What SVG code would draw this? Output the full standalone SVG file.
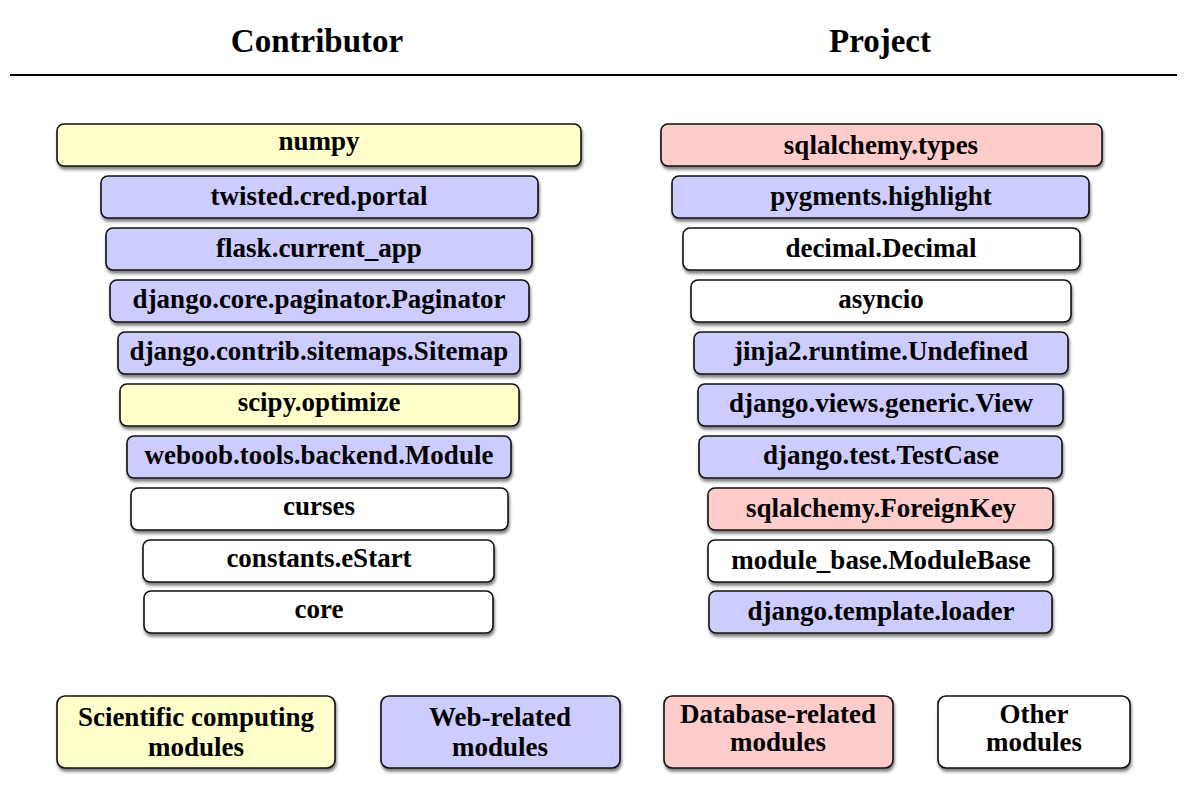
<svg xmlns="http://www.w3.org/2000/svg" width="1187" height="785" viewBox="0 0 1187 785">
<style>
text{font-family:"Liberation Serif","Times New Roman",serif;font-weight:bold;fill:#000;text-anchor:middle}
.t{font-size:27px}
.h{font-size:33px}
rect{stroke:#111;stroke-width:1.6;filter:url(#sh)}
.y{fill:#FFFFCC}.b{fill:#CCCCFF}.p{fill:#FFCCCC}.w{fill:#FFFFFF}
</style>
<defs>
<filter id="sh" x="-5%" y="-20%" width="110%" height="150%">
<feDropShadow dx="1" dy="3" stdDeviation="1.8" flood-color="#000" flood-opacity="0.5"/>
</filter>
</defs>
<rect width="1187" height="785" fill="#fff" style="stroke:none;filter:none"/>
<g id="header">
<text class="h" x="317" y="52">Contributor</text>
<text class="h" x="880" y="52">Project</text>
<line x1="10" y1="75" x2="1177" y2="75" stroke="#000" stroke-width="2"/>
</g>
<g id="connectors"></g>
<g id="c-numpy"><rect class="y" x="57" y="124" width="524" height="42" rx="7"/><text class="t" x="319" y="150">numpy</text></g>
<g id="c-twisted"><rect class="b" x="101" y="176" width="437" height="42" rx="7"/><text class="t" x="319" y="205">twisted.cred.portal</text></g>
<g id="c-flask"><rect class="b" x="106" y="228" width="426" height="42" rx="7"/><text class="t" x="319" y="257">flask.current_app</text></g>
<g id="c-paginator"><rect class="b" x="110" y="280" width="419" height="42" rx="7"/><text class="t" x="319" y="308">django.core.paginator.Paginator</text></g>
<g id="c-sitemap"><rect class="b" x="118" y="332" width="402" height="42" rx="7"/><text class="t" x="319" y="360">django.contrib.sitemaps.Sitemap</text></g>
<g id="c-scipy"><rect class="y" x="120" y="384" width="399" height="42" rx="7"/><text class="t" x="319" y="411">scipy.optimize</text></g>
<g id="c-weboob"><rect class="b" x="127" y="436" width="384" height="42" rx="7"/><text class="t" x="319" y="464">weboob.tools.backend.Module</text></g>
<g id="c-curses"><rect class="w" x="131" y="488" width="377" height="42" rx="7"/><text class="t" x="319" y="515">curses</text></g>
<g id="c-constants"><rect class="w" x="143" y="540" width="351" height="42" rx="7"/><text class="t" x="319" y="567">constants.eStart</text></g>
<g id="c-core"><rect class="w" x="144" y="591" width="349" height="42" rx="7"/><text class="t" x="319" y="618">core</text></g>

<g id="p-types"><rect class="p" x="661" y="124" width="441" height="42" rx="7"/><text class="t" x="881" y="154">sqlalchemy.types</text></g>
<g id="p-pygments"><rect class="b" x="672" y="176" width="417" height="42" rx="7"/><text class="t" x="881" y="205">pygments.highlight</text></g>
<g id="p-decimal"><rect class="w" x="683" y="228" width="397" height="42" rx="7"/><text class="t" x="881" y="257">decimal.Decimal</text></g>
<g id="p-asyncio"><rect class="w" x="691" y="280" width="380" height="42" rx="7"/><text class="t" x="881" y="308">asyncio</text></g>
<g id="p-jinja"><rect class="b" x="694" y="332" width="374" height="42" rx="7"/><text class="t" x="881" y="360">jinja2.runtime.Undefined</text></g>
<g id="p-views"><rect class="b" x="698" y="384" width="365" height="42" rx="7"/><text class="t" x="881" y="412">django.views.generic.View</text></g>
<g id="p-test"><rect class="b" x="699" y="436" width="363" height="42" rx="7"/><text class="t" x="881" y="464">django.test.TestCase</text></g>
<g id="p-fk"><rect class="p" x="708" y="488" width="345" height="42" rx="7"/><text class="t" x="881" y="517">sqlalchemy.ForeignKey</text></g>
<g id="p-modulebase"><rect class="w" x="708" y="540" width="345" height="42" rx="7"/><text class="t" x="881" y="569">module_base.ModuleBase</text></g>
<g id="p-template"><rect class="b" x="709" y="591" width="343" height="42" rx="7"/><text class="t" x="881" y="620">django.template.loader</text></g>

<g id="legend-sci"><rect class="y" x="57" y="696" width="278" height="72" rx="8"/><text class="t" x="196" y="726">Scientific computing</text><text class="t" x="196" y="756">modules</text></g>
<g id="legend-web"><rect class="b" x="381" y="696" width="239" height="72" rx="8"/><text class="t" x="500" y="726">Web-related</text><text class="t" x="500" y="756">modules</text></g>
<g id="legend-db"><rect class="p" x="664" y="696" width="229" height="72" rx="8"/><text class="t" x="778" y="723">Database-related</text><text class="t" x="778" y="751">modules</text></g>
<g id="legend-other"><rect class="w" x="938" y="696" width="192" height="72" rx="8"/><text class="t" x="1034" y="723">Other</text><text class="t" x="1034" y="751">modules</text></g>
</svg>
